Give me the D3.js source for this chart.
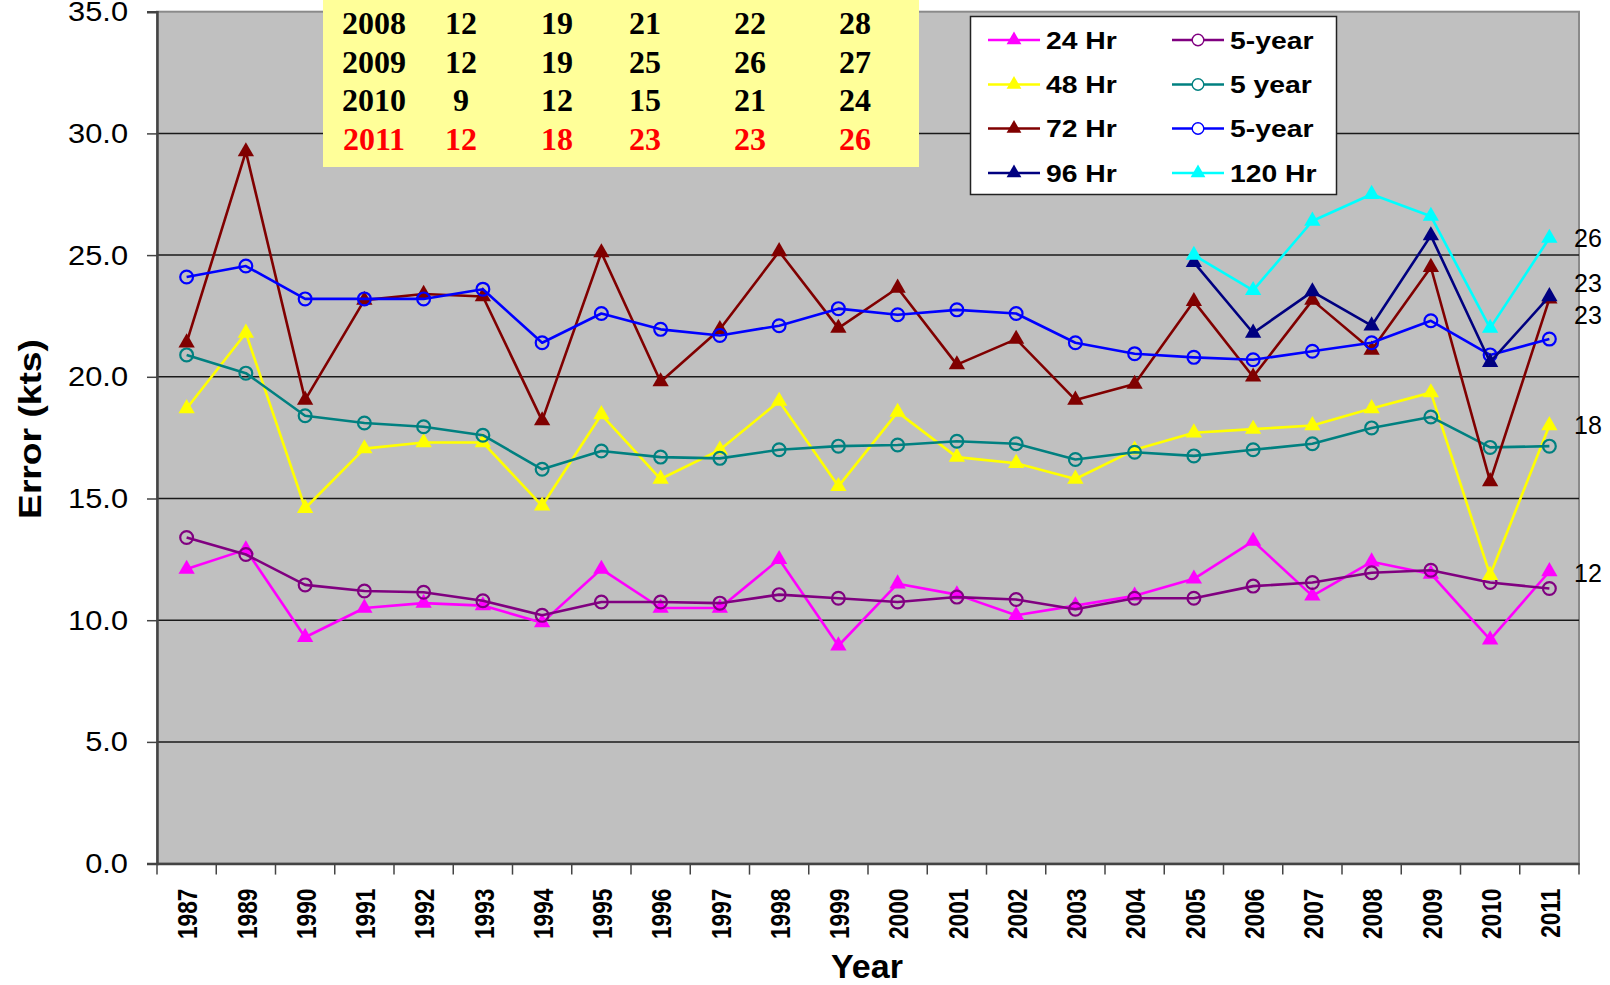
<!DOCTYPE html>
<html>
<head>
<meta charset="utf-8">
<script src="https://cdn.jsdelivr.net/npm/d3@7"></script>
<style>
  body { margin: 0; background: #fff; }
  svg { display: block; }
</style>
</head>
<body>
<svg id="chart" width="1610" height="985"></svg>
<script>
// categories (note: 1988 is missing in the source)
const years = ["1987","1989","1990","1991","1992","1993","1994","1995","1996","1997","1998","1999",
               "2000","2001","2002","2003","2004","2005","2006","2007","2008","2009","2010","2011"];

const hr24   = [12.1, 12.9, 9.3, 10.5, 10.7, 10.6, 9.9, 12.1, 10.5, 10.5, 12.5, 8.95,
                11.5, 11.05, 10.2, 10.6, 11.0, 11.7, 13.25, 11.0, 12.4, 11.9, 9.2, 12.0];
const avg24  = [13.4, 12.7, 11.45, 11.2, 11.15, 10.8, 10.2, 10.75, 10.75, 10.7, 11.05, 10.9,
                10.75, 10.95, 10.85, 10.45, 10.9, 10.9, 11.4, 11.55, 11.95, 12.05, 11.55, 11.3];
const hr48   = [18.7, 21.8, 14.6, 17.05, 17.3, 17.3, 14.7, 18.45, 15.8, 17.0, 19.0, 15.5,
                18.55, 16.7, 16.45, 15.8, 17.0, 17.7, 17.85, 18.0, 18.7, 19.35, 11.85, 18.0];
const avg48  = [20.9, 20.15, 18.4, 18.1, 17.95, 17.6, 16.2, 16.95, 16.7, 16.65, 17.0, 17.15,
                17.2, 17.35, 17.25, 16.6, 16.9, 16.75, 17.0, 17.25, 17.9, 18.35, 17.1, 17.15];
const hr72   = [21.4, 29.25, 19.05, 23.15, 23.4, 23.3, 18.2, 25.1, 19.8, 21.95, 25.15, 22.0,
                23.65, 20.5, 21.55, 19.05, 19.7, 23.1, 20.0, 23.15, 21.1, 24.5, 15.7, 23.2];
const avg72  = [24.1, 24.55, 23.2, 23.2, 23.2, 23.6, 21.4, 22.6, 21.95, 21.7, 22.1, 22.8,
                22.55, 22.75, 22.6, 21.4, 20.95, 20.8, 20.7, 21.05, 21.4, 22.3, 20.9, 21.55];
const hr96   = [null, null, null, null, null, null, null, null, null, null, null, null,
                null, null, null, null, null, 24.7, 21.8, 23.5, 22.1, 25.8, 20.6, 23.3];
const hr120  = [null, null, null, null, null, null, null, null, null, null, null, null,
                null, null, null, null, null, 25.0, 23.55, 26.4, 27.5, 26.6, 22.0, 25.7];

// legend order (two columns, read row by row)
const seriesNames   = ["24 Hr", "5-year", "48 Hr", "5 year", "72 Hr", "5-year", "96 Hr", "120 Hr"];
const seriesValues  = [hr24, avg24, hr48, avg48, hr72, avg72, hr96, hr120];
const seriesColors  = ["#FF00FF", "#800080", "#FFFF00", "#008080", "#800000", "#0000FF", "#000080", "#00FFFF"];
const seriesMarkers = ["triangle", "circle", "triangle", "circle", "triangle", "circle", "triangle", "triangle"];

// yellow table in the top corner
const tableRows = [
  ["2008", "12", "19", "21", "22", "28"],
  ["2009", "12", "19", "25", "26", "27"],
  ["2010", "9",  "12", "15", "21", "24"],
  ["2011", "12", "18", "23", "23", "26"]
];

// labels written next to the 2011 points (value = where the label sits)
const endLabels = ["26", "23", "23", "18", "12"];
const endLabelAt = [25.7, 23.85, 22.55, 18.0, 11.95];

const yTicks = [0, 5, 10, 15, 20, 25, 30, 35];

const svg = d3.select("#chart");
const W = +svg.attr("width"), H = +svg.attr("height");
const plot = { left: 157, right: 1579, top: 11.7, bottom: 863.6 };
const sans = "Arial, 'Liberation Sans', sans-serif";

svg.append("rect").attr("width", W).attr("height", H).attr("fill", "#fff");

const x = d3.scaleBand().domain(years).range([plot.left, plot.right]).padding(0);
const y = d3.scaleLinear().domain([0, 35]).range([plot.bottom, plot.top]);
const cx = d => x(d) + x.bandwidth() / 2;

// stretch text so it matches the (non-uniformly scaled) reference
function stretch(sel, ratio) {
  sel.each(function () {
    const w = this.getComputedTextLength();
    d3.select(this).attr("textLength", w * ratio).attr("lengthAdjust", "spacingAndGlyphs");
  });
}

// plot area
svg.append("rect")
  .attr("x", plot.left).attr("y", plot.top)
  .attr("width", plot.right - plot.left).attr("height", plot.bottom - plot.top)
  .attr("fill", "#C0C0C0").attr("stroke", "#8a8a8a").attr("stroke-width", 2);

// gridlines
svg.append("g").selectAll("line")
  .data(yTicks.filter(t => t > 0 && t < 35))
  .enter().append("line")
  .attr("x1", plot.left).attr("x2", plot.right)
  .attr("y1", d => y(d)).attr("y2", d => y(d))
  .attr("stroke", "#1a1a1a").attr("stroke-width", 1.5);

// y axis
const yAxis = svg.append("g")
  .attr("transform", `translate(${plot.left},0)`)
  .call(d3.axisLeft(y).tickValues(yTicks).tickFormat(d3.format(".1f")).tickSize(10).tickPadding(19));
yAxis.select(".domain").attr("stroke", "#444").attr("stroke-width", 2.5);
yAxis.selectAll(".tick line").attr("stroke", "#444").attr("stroke-width", 1.5);
yAxis.selectAll("text")
  .attr("font-family", sans).attr("font-size", 28).attr("fill", "#000")
  .call(stretch, 1.1);

// x axis
const xAxis = svg.append("g")
  .attr("transform", `translate(0,${plot.bottom})`)
  .call(d3.axisBottom(x).tickSize(0).tickPadding(0));
xAxis.select(".domain").attr("stroke", "#444").attr("stroke-width", 2.5);
xAxis.selectAll("text")
  .attr("font-family", sans).attr("font-size", 27).attr("font-weight", "bold").attr("fill", "#000")
  .attr("transform", "rotate(-90)")
  .attr("text-anchor", "end")
  .attr("x", -25).attr("y", 1).attr("dy", "0.36em")
  .call(stretch, 0.84);

// boundary ticks between categories
svg.append("g").selectAll("line")
  .data(d3.range(years.length + 1))
  .enter().append("line")
  .attr("x1", i => plot.left + i * x.step()).attr("x2", i => plot.left + i * x.step())
  .attr("y1", plot.bottom).attr("y2", plot.bottom + 11)
  .attr("stroke", "#444").attr("stroke-width", 1.5);

// axis titles
svg.append("text")
  .attr("transform", "translate(41,429) rotate(-90)")
  .attr("text-anchor", "middle")
  .attr("font-family", sans).attr("font-size", 31).attr("font-weight", "bold")
  .text("Error (kts)")
  .call(stretch, 1.2);

svg.append("text")
  .attr("x", 867).attr("y", 978)
  .attr("text-anchor", "middle")
  .attr("font-family", sans).attr("font-size", 34).attr("font-weight", "bold")
  .text("Year")
  .call(stretch, 1.0);

// series
const triangle = d3.symbol().type(d3.symbolTriangle);
const line = d3.line()
  .defined(d => d.v != null)
  .x(d => cx(d.year))
  .y(d => y(d.v));

const seriesG = svg.append("g");
seriesNames.forEach((name, i) => {
  const pts = years.map((yr, j) => ({ year: yr, v: seriesValues[i][j] }));
  const g = seriesG.append("g");
  g.append("path")
    .datum(pts)
    .attr("d", line)
    .attr("fill", "none")
    .attr("stroke", seriesColors[i])
    .attr("stroke-width", 2.6)
    .attr("stroke-linejoin", "round");

  const valid = pts.filter(d => d.v != null);
  if (seriesMarkers[i] === "triangle") {
    g.selectAll("path.mk").data(valid).enter().append("path")
      .attr("class", "mk")
      .attr("d", triangle.size(115))
      .attr("transform", d => `translate(${cx(d.year)},${y(d.v)})`)
      .attr("fill", seriesColors[i]);
  } else {
    g.selectAll("circle").data(valid).enter().append("circle")
      .attr("cx", d => cx(d.year)).attr("cy", d => y(d.v)).attr("r", 6.4)
      .attr("fill", "none")
      .attr("stroke", seriesColors[i]).attr("stroke-width", 2.2);
  }
});

// labels at the right of the last points
svg.append("g").selectAll("text")
  .data(endLabels)
  .enter().append("text")
  .attr("x", plot.right - 5)
  .attr("y", (d, i) => y(endLabelAt[i]))
  .attr("dy", "0.36em")
  .attr("font-family", sans).attr("font-size", 25).attr("fill", "#000")
  .text(d => d);

// yellow table
const table = svg.append("g");
table.append("rect")
  .attr("x", 323).attr("y", -2).attr("width", 596).attr("height", 169)
  .attr("fill", "#FFFF99");
const colX = [374, 461, 557, 645, 750, 855];
tableRows.forEach((row, r) => {
  table.selectAll(null).data(row).enter().append("text")
    .attr("x", (d, c) => colX[c])
    .attr("y", 34 + r * 38.7)
    .attr("text-anchor", "middle")
    .attr("font-family", "'Times New Roman', 'Liberation Serif', serif")
    .attr("font-size", 32).attr("font-weight", "bold")
    .attr("fill", r === tableRows.length - 1 ? "#FF0000" : "#000")
    .text(d => d);
});

// legend
const legend = svg.append("g");
legend.append("rect")
  .attr("x", 970.5).attr("y", 16.5).attr("width", 366).attr("height", 178)
  .attr("fill", "#fff").attr("stroke", "#222").attr("stroke-width", 1.5);
const legCol = [988, 1172];
const legRow = [40, 84.5, 128.5, 173];
seriesNames.forEach((name, i) => {
  const lx = legCol[i % 2], ly = legRow[Math.floor(i / 2)];
  const g = legend.append("g");
  g.append("line")
    .attr("x1", lx).attr("x2", lx + 52).attr("y1", ly).attr("y2", ly)
    .attr("stroke", seriesColors[i]).attr("stroke-width", 2.5);
  if (seriesMarkers[i] === "triangle") {
    g.append("path")
      .attr("d", triangle.size(95))
      .attr("transform", `translate(${lx + 26},${ly})`)
      .attr("fill", seriesColors[i]);
  } else {
    g.append("circle")
      .attr("cx", lx + 26).attr("cy", ly).attr("r", 5.8)
      .attr("fill", "#fff")
      .attr("stroke", seriesColors[i]).attr("stroke-width", 1.4);
  }
  g.append("text")
    .attr("x", lx + 58).attr("y", ly).attr("dy", "0.36em")
    .attr("font-family", sans).attr("font-size", 24).attr("font-weight", "bold")
    .text(name)
    .call(stretch, 1.18);
});
</script>
</body>
</html>
